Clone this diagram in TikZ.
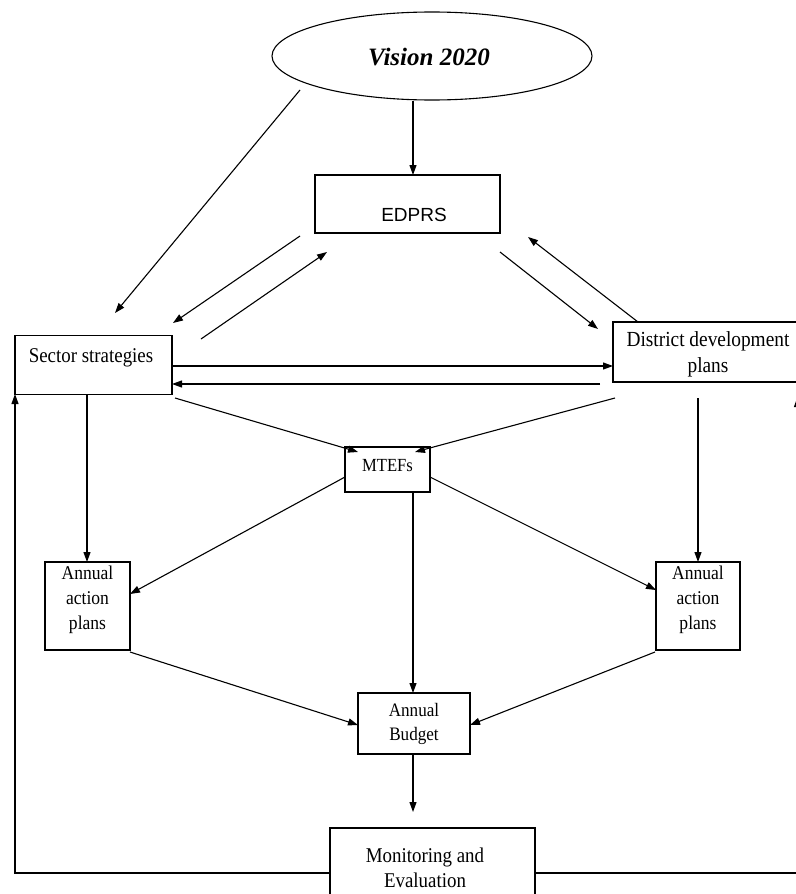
\documentclass[tikz,border=0pt]{standalone}
\usepackage{fontspec}
\setmainfont{Liberation Serif}
\newfontfamily\condf[FakeStretch=0.9]{Liberation Serif}
\newfontfamily\sansf{Liberation Sans}
\usetikzlibrary{arrows.meta,shapes.geometric}
\tikzset{
  box/.style={draw,line width=1.1pt,inner sep=0pt},
  lbl/.style={inner sep=0pt,align=center,font=\condf\fontsize{21}{25}\selectfont},
  arr/.style={line width=1.1pt,-{Triangle[length=10pt,width=7pt]}}
}
\begin{document}
\begin{tikzpicture}[x=1pt,y=-1pt]
\useasboundingbox (0,0) rectangle (795,894);
% nodes
\node[draw,line width=1.1pt,ellipse,minimum width=320pt,minimum height=88pt,inner sep=0pt] (vision) at (432,56) {};
\node[inner sep=0pt,font=\fontsize{25}{28}\selectfont\bfseries\itshape] (visionT) at (429,57) {Vision 2020};
\node[box,minimum width=185pt,minimum height=58pt] (edprs) at (407.5,204) {};
\node[inner sep=0pt,font=\sansf\fontsize{19}{22}\selectfont] (edprsT) at (414,215) {EDPRS};
\node[box,minimum width=157pt,minimum height=59pt] (sector) at (93.5,365) {};
\node[lbl] (sectorT) at (91,358) {Sector strategies};
\node[box,minimum width=185pt,minimum height=60pt] (district) at (705.5,352) {};
\node[lbl,font=\condf\fontsize{21.5}{26}\selectfont] (districtT) at (708,354) {District development\\plans};
\node[box,minimum width=85pt,minimum height=45pt] (mtefs) at (387.5,469.5) {};
\node[lbl,font=\condf\fontsize{18.5}{20}\selectfont] (mtefsT) at (387.5,466) {MTEFs};
\node[box,minimum width=85pt,minimum height=88pt] (aapL) at (87.5,606) {};
\node[lbl,font=\condf\fontsize{19.5}{25}\selectfont,anchor=north] (aapLT) at (87.5,566) {Annual\\action\\plans};
\node[box,minimum width=84pt,minimum height=88pt] (aapR) at (698,606) {};
\node[lbl,font=\condf\fontsize{19.5}{25}\selectfont,anchor=north] (aapRT) at (698,566) {Annual\\action\\plans};
\node[box,minimum width=112pt,minimum height=61pt] (budget) at (414,723.5) {};
\node[lbl,font=\condf\fontsize{19}{24}\selectfont] (budgetT) at (414,724) {Annual\\Budget};
\node[box,minimum width=205pt,minimum height=80pt] (monit) at (432.5,868) {};
\node[lbl] (monitT) at (425,868) {Monitoring and\\Evaluation};
% free end coordinates
\coordinate (v1) at (300,90);   \coordinate (s1) at (115,313);
\coordinate (v2) at (413,101);  \coordinate (e2) at (413,175);
\coordinate (e3) at (300,236);  \coordinate (s3) at (173,323);
\coordinate (s4) at (201,339);  \coordinate (e4) at (327,252);
\coordinate (e5) at (500,252);  \coordinate (d5) at (598,329);
\coordinate (d6) at (638,322);  \coordinate (e6) at (528,237);
\coordinate (s7) at (172,366);  \coordinate (d7) at (613,366);
\coordinate (d8) at (600,384);  \coordinate (s8) at (172,384);
\coordinate (s9) at (175,398);  \coordinate (m9) at (358,452);
\coordinate (d10) at (615,398); \coordinate (m10) at (415,452);
\coordinate (s11) at (87,394);  \coordinate (a11) at (87,562);
\coordinate (d12) at (698,398); \coordinate (a12) at (698,562);
\coordinate (m13) at (345,477); \coordinate (a13) at (130,594);
\coordinate (m14) at (430,477); \coordinate (a14) at (656,590);
\coordinate (m15) at (413,492); \coordinate (b15) at (413,693);
\coordinate (a16) at (130,652); \coordinate (b16) at (358,725);
\coordinate (a17) at (655,652); \coordinate (b17) at (470,725);
\coordinate (b18) at (413,754); \coordinate (n18) at (413,812);
\coordinate (n19) at (330,873); \coordinate (s19) at (15,394);
\coordinate (n20) at (535,873); \coordinate (d20) at (797.5,397);
% connectors
\draw[arr] (v1) -- (s1);
\draw[arr] (v2) -- (e2);
\draw[arr] (e3) -- (s3);
\draw[arr] (s4) -- (e4);
\draw[arr] (e5) -- (d5);
\draw[arr] (d6) -- (e6);
\draw[arr] (s7) -- (d7);
\draw[arr] (d8) -- (s8);
\draw[arr] (s9) -- (m9);
\draw[arr] (d10) -- (m10);
\draw[arr] (s11) -- (a11);
\draw[arr] (d12) -- (a12);
\draw[arr] (m13) -- (a13);
\draw[arr] (m14) -- (a14);
\draw[arr] (m15) -- (b15);
\draw[arr] (a16) -- (b16);
\draw[arr] (a17) -- (b17);
\draw[arr] (b18) -- (n18);
\draw[arr] (n19) -| (s19);
\draw[arr] (n20) -| (d20);
\end{tikzpicture}
\end{document}
